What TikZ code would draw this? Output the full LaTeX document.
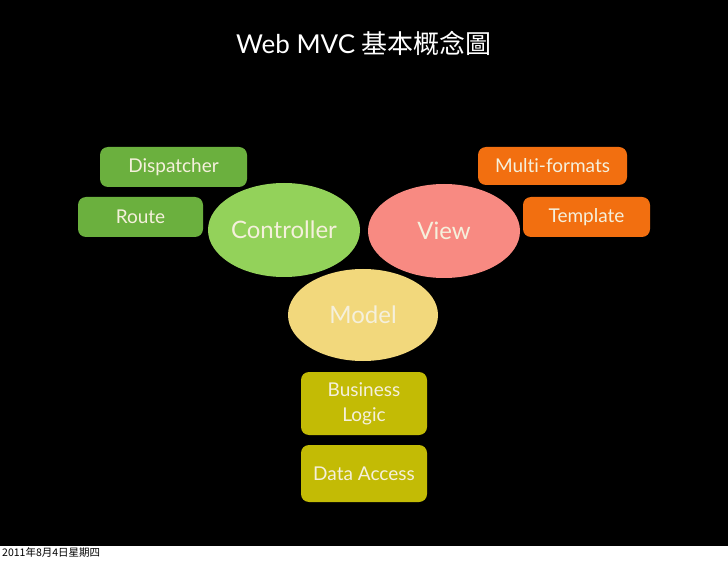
\documentclass[tikz,border=0pt]{standalone}
\usepackage{fontspec}
\setmainfont{Lato}[Ligatures=NoCommon]
\newfontfamily\cjk{Noto Sans CJK TC}
\usetikzlibrary{shapes.geometric}
\definecolor{bg}{HTML}{000000}
\definecolor{txt}{HTML}{F5F0DC}
\definecolor{gdark}{HTML}{6BB03E}
\definecolor{glight}{HTML}{93D25A}
\definecolor{pink}{HTML}{F88A82}
\definecolor{orng}{HTML}{F26F10}
\definecolor{yell}{HTML}{F2D87C}
\definecolor{olive}{HTML}{C3BB05}
\tikzset{
  rbox/.style={rectangle, rounded corners=8pt, inner sep=0pt, text=txt, font=\fontsize{19}{25}\selectfont, align=center},
  oval/.style={ellipse, inner sep=0pt, minimum width=152pt, minimum height=94pt, text=txt, font=\fontsize{24}{28}\selectfont},
}
\begin{document}
\begin{tikzpicture}[x=1pt,y=-1pt]
\useasboundingbox (0,0) rectangle (728,561);
\fill[white] (0,0) rectangle (728,561);
\fill[bg] (0,0) rectangle (728,546);
\node[text=white, font=\fontsize{26}{30}\selectfont] (title) at (364,43) {Web MVC {\cjk 基本概念圖}};
% left group
\node[rbox, fill=gdark, minimum width=147pt, minimum height=40pt] (disp) at (173.5,167) {Dispatcher};
\node[rbox, fill=gdark, minimum width=125pt, minimum height=40pt] (route) at (140.5,217) {Route};
\node[oval, fill=glight] (ctrl) at (284,230) {Controller};
% right group
\node[rbox, fill=orng, minimum width=149pt, minimum height=38pt] (multi) at (552.5,166) {Multi-formats};
\node[rbox, fill=orng, minimum width=127pt, minimum height=40pt] (tmpl) at (586.5,217) {Template};
\node[oval, fill=pink] (view) at (444,231) {View};
% model
\node[oval, fill=yell, minimum width=150pt, minimum height=92pt] (model) at (363,315) {Model};
\node[rbox, fill=olive, minimum width=126pt, minimum height=63pt] (biz) at (364,403.5) {Business\\Logic};
\node[rbox, fill=olive, minimum width=126pt, minimum height=57pt] (data) at (364,473.5) {Data Access};
% date
\node[anchor=west, inner sep=0pt, font=\cjk\fontsize{10.5}{12}\selectfont] (date) at (2,553) {2011年8月4日星期四};
\end{tikzpicture}
\end{document}
